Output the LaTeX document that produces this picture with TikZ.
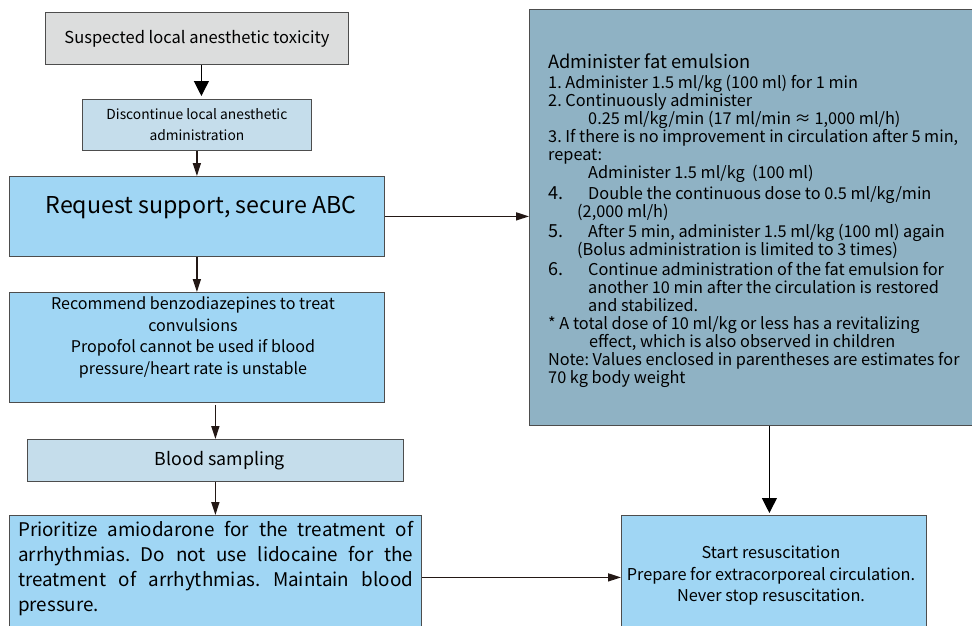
\documentclass[tikz,border=0pt]{standalone}
\usepackage{fontspec}
\setmainfont{Noto Sans CJK JP}
\usetikzlibrary{arrows.meta,positioning}
\definecolor{boxgray}{HTML}{DCDDDD}
\definecolor{paleblue}{HTML}{C5DDEB}
\definecolor{skyblue}{HTML}{A0D6F4}
\definecolor{steelblue}{HTML}{8FB2C4}
\definecolor{inkline}{HTML}{231815}
\definecolor{boxline}{HTML}{4D4D4D}

\tikzset{
  box/.style={draw=boxline, line width=0.8pt, anchor=north west, inner sep=0pt, align=center},
  flow/.style={draw=inkline, line width=1.6pt, -{Triangle[length=13pt,width=8pt]}},
  bigflow/.style={draw=black, line width=1.2pt, -{Triangle[length=15pt,width=15pt]}},
}
\frenchspacing

\begin{document}
\begin{tikzpicture}[x=1pt,y=-1pt]
    \useasboundingbox (0,0) rectangle (972,625);
    % left column
    \node[box, fill=boxgray, minimum width=303pt, minimum height=52pt,
          font=\fontsize{16.5}{18}\selectfont] (suspect) at (45,12)
          {Suspected local anesthetic toxicity};
    \node[box, fill=paleblue, minimum width=229pt, minimum height=51pt,
          font=\fontsize{13.8}{21}\selectfont] (discont) at (82,99)
          {Discontinue local anesthetic\\administration};
    \node[box, fill=skyblue, minimum width=375pt, minimum height=80pt] (abc) at (9,176) {};
    \node[font=\fontsize{23.2}{26}\selectfont] (abctext) at (201,207) {Request support, secure ABC};
    \node[box, fill=skyblue, minimum width=375pt, minimum height=110pt] (benzo) at (9,292) {};
    \node[align=center, font=\fontsize{16.1}{21.7}\selectfont] (benzotext) at (193,337.5)
          {Recommend benzodiazepines to treat\\convulsions\\Propofol cannot be used if blood\\pressure/heart rate is unstable};
    \node[box, fill=paleblue, minimum width=376pt, minimum height=42pt] (blood) at (27,439) {};
    \node[font=\fontsize{17.8}{20}\selectfont] (bloodtext) at (220,461) {Blood sampling};
    \node[box, fill=skyblue, minimum width=412pt, minimum height=124pt] (amio) at (9,515) {};
    \node[anchor=north west, inner sep=0pt, text width=395pt, align=justify,
          font=\fontsize{18.8}{25}\selectfont] (amiotext) at (18,521)
          {Prioritize amiodarone for the treatment of\linebreak arrhythmias. Do not use lidocaine for the\linebreak treatment of arrhythmias. Maintain blood\linebreak pressure.};
    % right column
    \node[box, fill=steelblue, minimum width=446pt, minimum height=416pt] (fat) at (529,9) {};
    \node[anchor=north west, inner sep=0pt, align=left,
          font=\fontsize{16.3}{18}\selectfont] (fattext) at (548,54)
          {{\fontsize{18.25}{18}\selectfont Administer fat emulsion}\\[2pt]
           1. Administer 1.5 ml/kg (100 ml) for 1 min\\
           2. Continuously administer\\
           \hspace*{40pt}0.25 ml/kg/min (17 ml/min ≈ 1,000 ml/h)\\
           3. If there is no improvement in circulation after 5 min,\\
           repeat:\\
           \hspace*{40pt}Administer 1.5 ml/kg\ \ (100 ml)\\[3pt]
           \makebox[40pt][l]{\fontsize{18}{18}\selectfont 4.}Double the continuous dose to 0.5 ml/kg/min\\
           \hspace*{29pt}(2,000 ml/h)\\[2pt]
           \makebox[40pt][l]{\fontsize{18}{18}\selectfont 5.}After 5 min, administer 1.5 ml/kg (100 ml) again\\
           \hspace*{29pt}(Bolus administration is limited to 3 times)\\[2pt]
           \makebox[40pt][l]{\fontsize{18}{18}\selectfont 6.}Continue administration of the fat emulsion for\\
           \hspace*{40pt}another 10 min after the circulation is restored\\
           \hspace*{40pt}and stabilized.\\
           * A total dose of 10 ml/kg or less has a revitalizing\\
           \hspace*{41pt}effect, which is also observed in children\\
           Note: Values enclosed in parentheses are estimates for\\
           70 kg body weight};
    \node[box, fill=skyblue, minimum width=305pt, minimum height=124pt] (resus) at (621,515) {};
    \node[align=center, font=\fontsize{16.3}{21.5}\selectfont] (resustext) at (771,576)
          {Start resuscitation\\Prepare for extracorporeal circulation.\\Never stop resuscitation.};
    \coordinate (drop) at ([xshift=-4.5pt]resus.north);
    % connectors
    \draw[bigflow, shorten >=3pt] ([xshift=4.5pt]suspect.south) -- ([xshift=4.5pt]discont.north);
    \draw[flow] (discont.south) -- (abc.north);
    \draw[flow] (abc.south) -- (benzo.north);
    \draw[flow, shorten <=2pt] (benzo.south -| blood.north) -- (blood.north);
    \draw[flow] (blood.south) -- (blood.south |- amio.north);
    \draw[flow] (abc.east) -- (abc.east -| fat.west);
    \draw[flow] (amio.east) -- (resus.west);
    \draw[bigflow, shorten >=2pt] (fat.south -| drop) -- (drop);
\end{tikzpicture}
\end{document}
